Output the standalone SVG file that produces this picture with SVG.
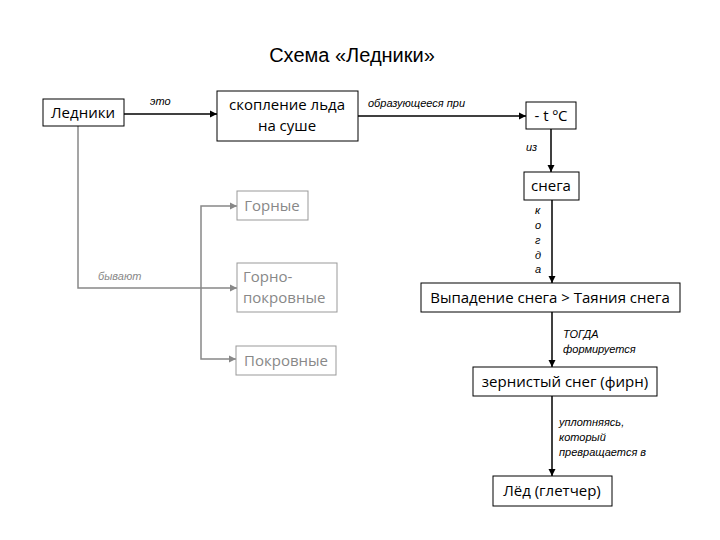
<svg xmlns="http://www.w3.org/2000/svg" width="720" height="540" viewBox="0 0 720 540">
<defs>
<marker id="a" viewBox="0 0 6 6" refX="6" refY="3" markerWidth="5" markerHeight="5" orient="auto"><path d="M0,0L6,3L0,6z" fill="#000"/></marker>
<marker id="g" viewBox="0 0 6 6" refX="6" refY="3" markerWidth="5" markerHeight="5" orient="auto"><path d="M0,0L6,3L0,6z" fill="#888"/></marker>
</defs>
<style>
.b{fill:#fff;stroke:#000;stroke-width:1}
.gb{fill:#fff;stroke:#999;stroke-width:1}
.t{font-family:"Open Sans",sans-serif;font-size:15px;fill:#000}
.gt{font-family:"Open Sans",sans-serif;font-size:15px;fill:#888}
.l{font-family:"Liberation Sans",Arial,sans-serif;font-size:11px;font-style:italic;fill:#000}
.c{stroke:#000;stroke-width:1.5;fill:none;marker-end:url(#a)}
.gc{stroke:#888;stroke-width:1.5;fill:none;marker-end:url(#g)}
</style>
<rect width="720" height="540" fill="#fff"/>
<text x="352" y="62" text-anchor="middle" font-family="Liberation Sans,Arial,sans-serif" font-size="20">Схема «Ледники»</text>
<g id="connectors">
<path class="c" d="M124,114H217"/>
<path class="c" d="M358,116H526"/>
<path class="c" d="M551,129V172"/>
<path class="c" d="M552,200V283"/>
<path class="c" d="M552,312V367"/>
<path class="c" d="M552,396V476"/>
<path class="gc" d="M78,126V288H237"/>
<path class="gc" d="M201,288V206H237"/>
<path class="gc" d="M201,288V359H236"/>
<text class="l" x="150" y="105">это</text>
<text class="l" x="368" y="107">образующееся при</text>
<text class="l" x="526" y="151" font-size="10">из</text>
<g class="l" font-size="10"><text x="535" y="214">к</text><text x="535" y="229">о</text><text x="535" y="244">г</text><text x="535" y="259">д</text><text x="535" y="273">а</text></g>
<text class="l" x="98" y="280" style="fill:#888">бывают</text>
<text class="l" x="563" y="338" font-size="10">ТОГДА</text>
<text class="l" x="563" y="353" font-size="10">формируется</text>
<text class="l" x="559" y="426" font-size="10">уплотняясь,</text>
<text class="l" x="559" y="441" font-size="10">который</text>
<text class="l" x="559" y="456" font-size="10">превращается в</text>
</g>
<g id="n1"><rect class="b" x="43" y="99" width="81" height="27"/><text class="t" x="83" y="118" text-anchor="middle">Ледники</text></g>
<g id="n2"><rect class="b" x="217" y="91" width="141" height="50"/><text class="t" x="287" y="110" text-anchor="middle">скопление льда</text><text class="t" x="287" y="131" text-anchor="middle">на суше</text></g>
<g id="n3"><rect class="b" x="526" y="102" width="50" height="27"/><text class="t" x="551" y="121" text-anchor="middle">- t ºC</text></g>
<g id="n4"><rect class="b" x="524" y="172" width="55" height="28"/><text class="t" x="551" y="191" text-anchor="middle">снега</text></g>
<g id="n5"><rect class="b" x="421" y="283" width="259" height="29"/><text class="t" x="550" y="303" text-anchor="middle">Выпадение снега &gt; Таяния снега</text></g>
<g id="n6"><rect class="b" x="473" y="367" width="184" height="29"/><text class="t" x="565" y="387" text-anchor="middle">зернистый снег (фирн)</text></g>
<g id="n7"><rect class="b" x="493" y="476" width="119" height="30"/><text class="t" x="552" y="496" text-anchor="middle">Лёд (глетчер)</text></g>
<g id="n8"><rect class="gb" x="237" y="191" width="71" height="29"/><text class="gt" x="272" y="211" text-anchor="middle">Горные</text></g>
<g id="n9"><rect class="gb" x="237" y="263" width="100" height="49"/><text class="gt" x="243" y="282">Горно-</text><text class="gt" x="243" y="303">покровные</text></g>
<g id="n10"><rect class="gb" x="236" y="346" width="100" height="29"/><text class="gt" x="286" y="366" text-anchor="middle">Покровные</text></g>
</svg>
